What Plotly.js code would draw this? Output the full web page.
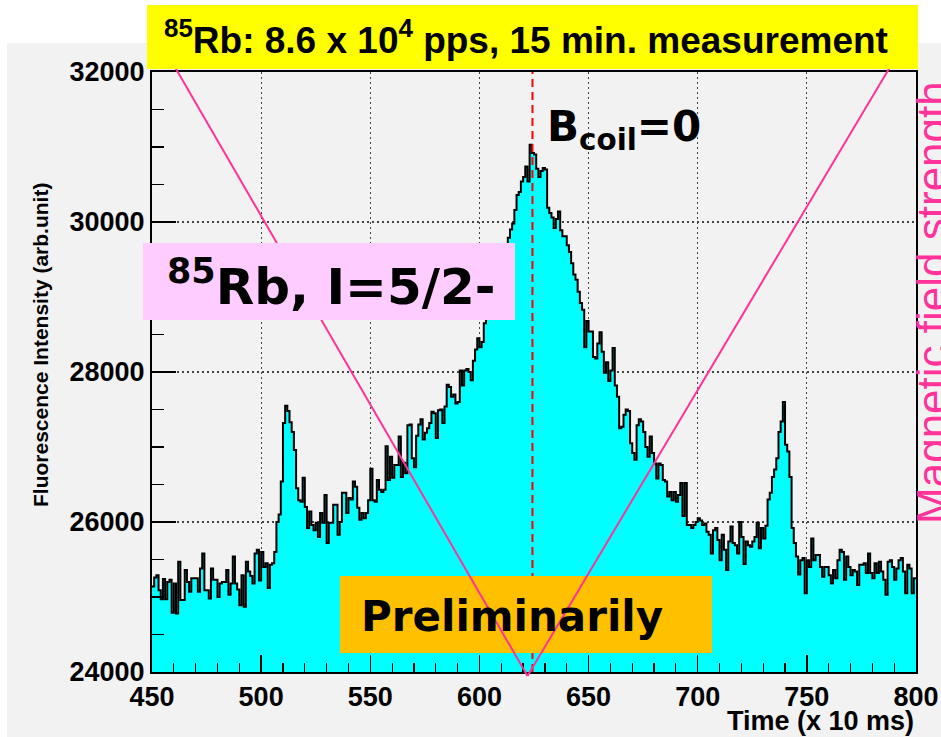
<!DOCTYPE html>
<html>
<head>
<meta charset="utf-8">
<script src="https://cdn.plot.ly/plotly-3.0.1.min.js"></script>
<style>html,body{margin:0;padding:0;background:#fff;}#chart{width:941px;height:737px;}</style>
</head>
<body>
<div id="chart"></div>
<script>
// Histogram: fluorescence counts per 1-unit time bin (x 10 ms), bins start at 450
const binStart = 450;
const binWidth = 1;
const counts = [
  25140, 25260, 25290, 25090, 24970, 25240, 24970, 25200, 25230, 24790,
  25180, 24780, 25470, 24960, 24960, 25360, 25200, 25070, 25250, 25250,
  25250, 25070, 25380, 25580, 25090, 25090, 24980, 25380, 25230, 25230,
  25000, 25180, 25200, 25200, 25360, 25030, 25180, 25540, 25180, 25100,
  24890, 25290, 24870, 25470, 25340, 25280, 25180, 25580, 25630, 25220,
  25600, 25400, 25450, 25120, 25430, 25450, 25600, 26000, 26100, 26540,
  27320, 27550, 27480, 27330, 27200, 26960, 26450, 26290, 26270, 26590,
  26200, 25920, 26140, 25960, 25890, 25990, 25800, 26120, 25990, 26360,
  25720, 25990, 25990, 26230, 26230, 25830, 26000, 26390, 26390, 26120,
  26320, 26300, 26540, 26470, 26190, 26030, 26120, 26050, 26120, 26290,
  26710, 26290, 26270, 26560, 26430, 26400, 26430, 27010, 26560, 26870,
  26590, 26760, 26760, 27140, 26600, 26790, 26650, 27290, 27300, 26850,
  26730, 27150, 27300, 27370, 27100, 27190, 27250, 27320, 27470, 27450,
  27120, 27490, 27500, 27320, 27540, 27830, 27800, 27670, 27700, 27580,
  27600, 28020, 27820, 28020, 28040, 28000, 27890, 28150, 28300, 28450,
  28330, 28400, 28650, 28750, 28900, 29050, 29000, 29200, 29350, 29300,
  29500, 29600, 29700, 29790, 29900, 29980, 30160, 30360, 30400, 30540,
  30600, 30740, 30540, 31030, 30920, 30900, 30710, 30600, 30680, 30720,
  30700, 30190, 30120, 30060, 29920, 30040, 30140, 29890, 29810, 29810,
  29690, 29600, 29450, 29300, 29230, 29070, 28920, 28830, 28330, 28680,
  28540, 28540, 28200, 28180, 28380, 28530, 28270, 27990, 28130, 27880,
  28020, 28320, 27820, 27670, 27250, 27270, 27430, 27500, 27480, 27050,
  26920, 26830, 27290, 27370, 27340, 27200, 27000, 26870, 27140, 26920,
  26780, 26580, 26780, 26760, 26560, 26540, 26340, 26400, 26290, 26400,
  26270, 26360, 26520, 26080, 26520, 25960, 25960, 25920, 25960, 26000,
  26050, 26020, 25960, 25980, 25870, 25830, 25580, 25890, 25920, 25760,
  25490, 25830, 25630, 25360, 25740, 25940, 25720, 25690, 25580, 26000,
  25800, 25440, 25740, 25690, 25670, 25740, 25800, 25990, 25650, 25920,
  25780, 25950, 26300, 26390, 26600, 26700, 26850, 27200, 27340, 27600,
  27030, 26940, 26600, 25920, 25720, 25540, 25300, 25490, 25520, 25050,
  25490, 25400, 25780, 25490, 25560, 25560, 25400, 25270, 25400, 25400,
  25290, 25180, 25360, 25250, 25490, 25630, 25600, 25230, 25540, 25400,
  25290, 25360, 25340, 25160, 25430, 25430, 25450, 25320, 25580, 25320,
  25250, 25450, 25320, 25470, 25340, 25230, 25030, 25470, 25490, 25400,
  25230, 25380, 25490, 25520, 25340, 25050, 25430, 25380, 25050, 25250
];
const xRange = [450, 800];
const yRange = [24000, 32000];
const bZeroTime = 624.3;   // B_coil = 0 marker

// build step outline from bin edges
const edges = [];
const stepY = [];
for (let i = 0; i < counts.length; i++) { edges.push(binStart + i * binWidth); stepY.push(counts[i]); }
edges.push(binStart + counts.length * binWidth); stepY.push(counts[counts.length - 1]);

const trace = {
  type: 'scatter', mode: 'lines', x: edges, y: stepY,
  line: {shape: 'hv', color: 'black', width: 2},
  fill: 'tozeroy', fillcolor: '#00ffff', hoverinfo: 'skip'
};

const tickFont = {family: 'Liberation Sans, Arial, sans-serif', size: 27, color: 'black', weight: 'bold'};
const axisCommon = {
  ticks: 'inside', tickcolor: 'black', tickwidth: 1.5,
  showline: true, linecolor: 'black', linewidth: 2, mirror: true,
  showgrid: true, gridcolor: '#444', gridwidth: 1.2, griddash: '2px,3px',
  zeroline: false, tickfont: tickFont
};

const layout = {
  width: 941, height: 737,
  margin: {l: 152, r: 25, t: 72, b: 65},
  paper_bgcolor: 'white', plot_bgcolor: '#f2f2f2',
  showlegend: false,
  xaxis: Object.assign({}, axisCommon, {
    range: xRange, tick0: 450, dtick: 50, ticklen: 17,
    minor: {dtick: 10, ticks: 'inside', ticklen: 9, tickcolor: 'black', tickwidth: 1.2, showgrid: false}
  }),
  yaxis: Object.assign({}, axisCommon, {
    range: yRange, tick0: 24000, dtick: 2000, ticklen: 24, tickformat: 'd',
    minor: {dtick: 500, ticks: 'inside', ticklen: 12, tickcolor: 'black', tickwidth: 1.2, showgrid: false}
  }),
  shapes: [
    {type: 'rect', xref: 'paper', yref: 'paper', x0: -0.1898, x1: 1.05, y0: -0.12, y1: 1.0483,
     fillcolor: '#f2f2f2', line: {width: 0}, layer: 'below'},
    {type: 'line', xref: 'x', yref: 'paper', x0: bZeroTime, x1: bZeroTime, y0: 0, y1: 1,
     line: {color: 'red', width: 2, dash: '8px,5px'}},
    {type: 'rect', xref: 'paper', yref: 'paper', x0: 0.2461, x1: 0.7330, y0: 0.0317, y1: 0.16,
     fillcolor: '#ffc000', line: {width: 0}},
    {type: 'line', xref: 'paper', yref: 'paper', x0: 0.0262, y0: 1.0167, x1: 0.4915, y1: -0.0067,
     line: {color: '#ff3399', width: 2}},
    {type: 'line', xref: 'paper', yref: 'paper', x0: 0.4915, y0: -0.0067, x1: 0.9699, y1: 1.0167,
     line: {color: '#ff3399', width: 2}},
    {type: 'rect', xref: 'paper', yref: 'paper', x0: -0.0118, x1: 0.4751, y0: 0.5867, y1: 0.715,
     fillcolor: '#ffccff', line: {width: 0}},
    {type: 'rect', xref: 'paper', yref: 'paper', x0: -0.0065, x1: 1.0026, y0: 1.005, y1: 1.1117,
     fillcolor: '#ffff00', line: {width: 0}}
  ],
  annotations: [
    {xref: 'paper', yref: 'paper', x: 0.4895, y: 1.0567, xanchor: 'center', yanchor: 'middle', showarrow: false,
     text: '<b><sup>85</sup>Rb: 8.6 x 10<sup>4</sup> pps, 15 min. measurement</b>',
     font: {family: 'Liberation Sans, Arial, sans-serif', size: 37, color: 'black'}},
    {xref: 'paper', yref: 'paper', x: 0.5144, y: 0.905, xanchor: 'left', yanchor: 'middle', showarrow: false,
     text: '<b>B<sub>coil</sub>=0</b>',
     font: {family: 'DejaVu Sans, Verdana, sans-serif', size: 42, color: 'black'}},
    {xref: 'paper', yref: 'paper', x: 0.2343, y: 0.648, xanchor: 'center', yanchor: 'middle', showarrow: false,
     text: '<b><sup>85</sup>Rb, I=5/2-</b>',
     font: {family: 'DejaVu Sans, Verdana, sans-serif', size: 50, color: 'black'}},
    {xref: 'paper', yref: 'paper', x: 0.4712, y: 0.093, xanchor: 'center', yanchor: 'middle', showarrow: false,
     text: '<b>Preliminarily</b>',
     font: {family: 'DejaVu Sans, Verdana, sans-serif', size: 42, color: 'black'}},
    {xref: 'paper', yref: 'paper', x: -0.1466, y: 0.545, xanchor: 'center', yanchor: 'middle', showarrow: false, textangle: -90,
     text: '<b>Fluorescence Intensity (arb.unit)</b>',
     font: {family: 'Liberation Sans, Arial, sans-serif', size: 21, color: 'black'}},
    {xref: 'paper', yref: 'paper', x: 1.0, y: -0.081, xanchor: 'right', yanchor: 'middle', showarrow: false,
     text: '<b>Time (x 10 ms)</b>',
     font: {family: 'Liberation Sans, Arial, sans-serif', size: 27, color: 'black'}},
    {xref: 'paper', yref: 'paper', x: 1.0569, y: 0.6167, xanchor: 'right', yanchor: 'middle', showarrow: false, textangle: -90,
     text: 'Magnetic field strength',
     font: {family: 'Liberation Sans, Arial, sans-serif', size: 44, color: '#ff3399'}}
  ]
};

Plotly.newPlot('chart', [trace], layout, {staticPlot: true, displayModeBar: false});
</script>
</body>
</html>
